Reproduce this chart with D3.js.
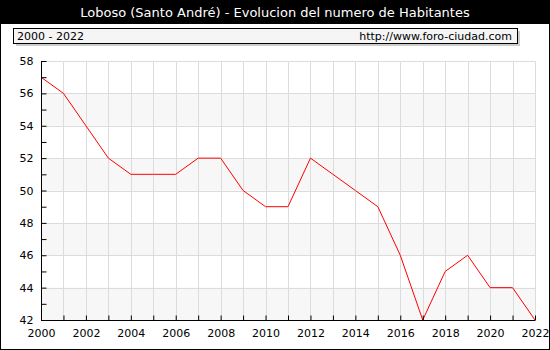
<!DOCTYPE html>
<html>
<head>
<meta charset="utf-8">
<script src="https://cdn.jsdelivr.net/npm/d3@7"></script>
<style>
  body { margin: 0; background: #fff; }
  svg text { font-family: "DejaVu Sans", Verdana, sans-serif; }
</style>
</head>
<body>
<script>
// data
const years = d3.range(2000, 2023);
const habitantes = [57, 56, 54, 52, 51, 51, 51, 52, 52, 50, 49, 49, 52, 51, 50, 49, 46, 42, 45, 46, 44, 44, 42];
const yTicks = [42, 44, 46, 48, 50, 52, 54, 56, 58];
const xTickLabels = [2000, 2002, 2004, 2006, 2008, 2010, 2012, 2014, 2016, 2018, 2020, 2022];

const width = 550, height = 350;
const svg = d3.select('body').append('svg').attr('width', width).attr('height', height);

// outer frame + title bar
svg.append('rect').attr('x', 0.5).attr('y', 0.5).attr('width', width - 1).attr('height', height - 1)
    .attr('fill', '#fff').attr('stroke', '#000');
svg.append('rect').attr('x', 0).attr('y', 0).attr('width', width).attr('height', 24).attr('fill', '#000');
svg.append('text').attr('x', width / 2).attr('y', 17).attr('text-anchor', 'middle')
    .attr('fill', '#fff').style('font-size', '13px')
    .text('Loboso (Santo André) - Evolucion del numero de Habitantes');

// sub header box with shadow
svg.append('rect').attr('x', 16).attr('y', 31).attr('width', 504).attr('height', 15).attr('fill', '#ccc');
svg.append('rect').attr('x', 13.5).attr('y', 28.5).attr('width', 504).attr('height', 15)
    .attr('fill', '#f5f5f5').attr('stroke', '#000');
svg.append('text').attr('x', 17).attr('y', 40).style('font-size', '11px').text('2000 - 2022');
svg.append('text').attr('x', 512).attr('y', 40).attr('text-anchor', 'end').style('font-size', '11px')
    .text('http://www.foro-ciudad.com');

// plot
const x = d3.scaleLinear().domain([2000, 2022]).range([41, 535]);
const y = d3.scaleLinear().domain([42, 58]).range([320, 61]);

const plot = svg.append('g');

// alternating bands
plot.selectAll('.band')
    .data([42, 46, 50, 54])
    .join('rect')
    .attr('class', 'band')
    .attr('x', x(2000)).attr('width', x(2022) - x(2000))
    .attr('y', d => y(d + 2)).attr('height', d => y(d) - y(d + 2))
    .attr('fill', '#f7f7f7');

// grid
plot.selectAll('.vgrid')
    .data(years.slice(1))
    .join('line')
    .attr('class', 'vgrid')
    .attr('x1', d => Math.round(x(d)) + 0.5).attr('x2', d => Math.round(x(d)) + 0.5)
    .attr('y1', y(58)).attr('y2', y(42))
    .attr('stroke', '#dcdcdc');
plot.selectAll('.hgrid')
    .data(yTicks.slice(1))
    .join('line')
    .attr('class', 'hgrid')
    .attr('x1', x(2000)).attr('x2', x(2022))
    .attr('y1', d => Math.round(y(d)) + 0.5).attr('y2', d => Math.round(y(d)) + 0.5)
    .attr('stroke', '#dcdcdc');

// axes
const yAxis = d3.axisLeft(y).tickValues(d3.range(42, 59)).tickSize(5)
    .tickFormat(d => d % 2 === 0 ? d : '');
const gy = svg.append('g').attr('transform', `translate(${Math.round(x(2000)) + 0.5},0)`).call(yAxis);
gy.select('.domain').attr('d', `M0,${y(58)}V${y(42)}`);
gy.selectAll('.tick line').attr('x2', d => d % 2 === 0 ? -5 : 0)
    .attr('x1', d => d % 2 === 0 ? 0 : 0)
    .filter(d => d % 2 !== 0).attr('x2', 5);
gy.selectAll('.tick line').filter(d => d % 2 === 0).attr('x2', 5);
gy.selectAll('text').attr('x', -8).style('font-size', '11px').attr('fill', '#000');

const xAxis = d3.axisBottom(x).tickValues(years).tickSize(-5)
    .tickFormat(d => d % 2 === 0 ? d : '');
const gx = svg.append('g').attr('transform', `translate(0,${Math.round(y(42)) + 0.5})`).call(xAxis);
gx.select('.domain').attr('d', `M${x(2000)},0H${x(2022)}`);
gx.selectAll('text').attr('y', 9).style('font-size', '11px').attr('fill', '#000');
svg.selectAll('.domain, .tick line').attr('stroke', '#000');

// line
const line = d3.line().x((d, i) => x(years[i])).y(d => y(d));
plot.append('path')
    .datum(habitantes)
    .attr('d', line)
    .attr('fill', 'none')
    .attr('stroke', '#ff0000')
    .attr('stroke-width', 1);
</script>
</body>
</html>
